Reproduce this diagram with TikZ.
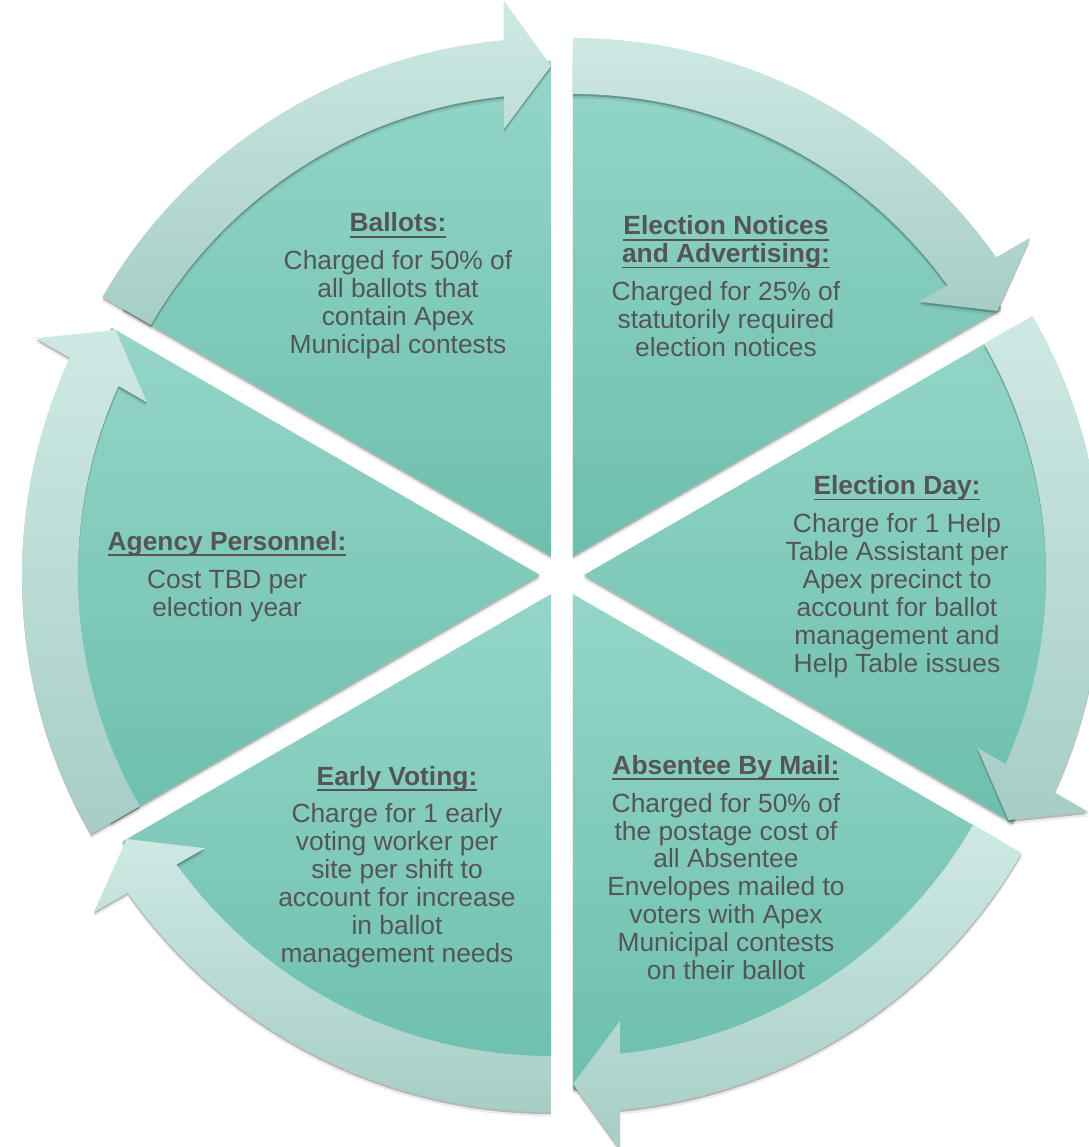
\documentclass[tikz,border=0pt]{standalone}
\usepackage{fontspec}
\setmainfont{Liberation Sans}
\usetikzlibrary{shadows}
\definecolor{wedgetop}{HTML}{94D6C8}
\definecolor{wedgebot}{HTML}{6DBFAD}
\definecolor{bandtop}{HTML}{CEE9E3}
\definecolor{bandbot}{HTML}{A6CEC6}
\definecolor{txtgray}{HTML}{555555}
\newcommand{\hd}[1]{\setbox0\hbox{\bfseries #1}\rlap{\rule[-3.4pt]{\wd0}{1.1pt}}\box0}
\begin{document}
\begin{tikzpicture}[x=0.02cm, y=0.02cm,
  soft/.style={drop shadow={shadow xshift=0pt, shadow yshift=-2.6pt, fill=black, opacity=.08},
    drop shadow={shadow xshift=0pt, shadow yshift=-1.2pt, fill=black, opacity=.22}},
  wedge/.style={soft, top color=wedgetop, bottom color=wedgebot},
  band/.style={soft, top color=bandtop, bottom color=bandbot},
  txt/.style={align=center, text=txtgray, inner sep=0pt, font=\fontsize{15}{15.9}\selectfont}]
\useasboundingbox (-562,-572) rectangle (527,575);
\foreach \a in {120,60,0,-60,-120,180} {
\begin{scope}[shift={(\a:22)}]
\path[wedge] (0,0) -- (\a-30:495) arc[start angle=\a-30, end angle=\a+30, radius=495] -- cycle;
\path[band] (\a+30:462) -- (\a+30:518) arc[start angle=\a+30, end angle=\a-24.79, radius=518]
  -- ([shift={(\a+60:47)}]\a-30:555) -- (\a-30:490) -- ([shift={(\a+60:47)}]\a-30:427)
  -- (\a-24.16:462) arc[start angle=\a-24.16, end angle=\a+30, radius=462] -- cycle;
\end{scope}
}
\node[txt] (ballots) at (-164,289) {\hd{Ballots:}\\[5.7pt]Charged for 50\% of\\all ballots that\\contain Apex\\Municipal contests};
\node[txt] (notices) at (164,289) {\hd{Election Notices}\\\hd{and Advertising:}\\[5.7pt]Charged for 25\% of\\statutorily required\\election notices};
\node[txt] (eday) at (335,-1.5) {\hd{Election Day:}\\[5.7pt]Charge for 1 Help\\Table Assistant per\\Apex precinct to\\account for ballot\\management and\\Help Table issues};
\node[txt] (absentee) at (164,-292.5) {\hd{Absentee By Mail:}\\[5.7pt]Charged for 50\% of\\the postage cost of\\all Absentee\\Envelopes mailed to\\voters with Apex\\Municipal contests\\on their ballot};
\node[txt] (early) at (-165,-292) {\hd{Early Voting:}\\[5.7pt]Charge for 1 early\\voting worker per\\site per shift to\\account for increase\\in ballot\\management needs};
\node[txt] (agency) at (-335,-1.5) {\hd{Agency Personnel:}\\[5.7pt]Cost TBD per\\election year};
\end{tikzpicture}
\end{document}
